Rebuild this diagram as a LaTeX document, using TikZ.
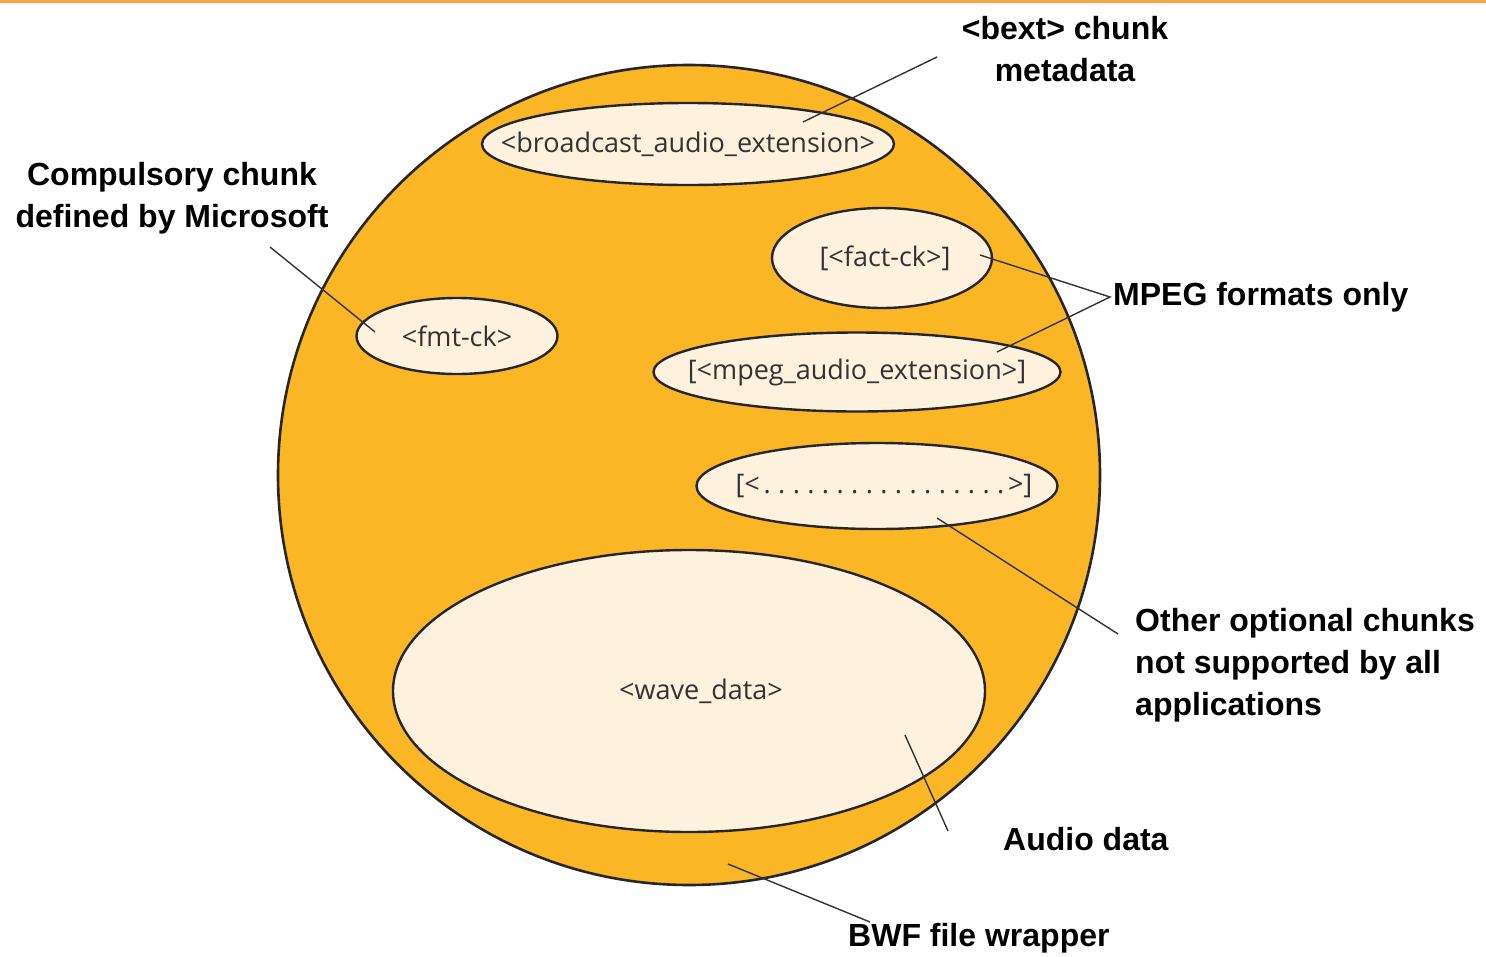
\documentclass[tikz,border=0pt]{standalone}
\usepackage{fontspec}
\setmainfont{Liberation Sans}
\newfontfamily\labfont{Liberation Sans}
\newfontfamily\inner{Open Sans}
\usetikzlibrary{shapes.geometric}
\definecolor{wrapper}{RGB}{251,182,38}
\definecolor{chunk}{RGB}{254,242,222}
\definecolor{topline}{RGB}{245,165,70}
\newcommand{\zb}[1]{\makebox[0pt]{#1}}
\newcommand{\dt}{\makebox[14.6pt]{.}}
\begin{document}
\begin{tikzpicture}[x=1pt,y=-1pt,
  chunkbox/.style={ellipse,draw=black!85,line width=2.4pt,fill=chunk,inner sep=0pt,
     font=\inner\fontsize{27}{32}\selectfont,text=black!80},
  lab/.style={font=\labfont\bfseries\fontsize{32}{42}\selectfont,align=left,inner sep=0pt},
  conn/.style={draw=black!80,line width=1.4pt}]
\useasboundingbox (0,0) rectangle (1486,956);
\fill[white] (0,0) rectangle (1486,956);
\draw[topline,line width=3pt] (0,1.5) -- (1486,1.5);
% wrapper
\node[ellipse,draw=black!85,line width=2.6pt,fill=wrapper,minimum width=822pt,minimum height=820pt,inner sep=0pt] (wrap) at (689,475) {};
% chunks
\node[chunkbox,minimum width=412pt,minimum height=82pt] (bext) at (688,144) {\zb{<broadcast\_audio\_extension>}};
\node[chunkbox,minimum width=220pt,minimum height=100pt] (fact) at (882,258) {\zb{\hspace*{6pt}[<fact-ck>]}};
\node[chunkbox,minimum width=201pt,minimum height=76pt] (fmt) at (457,336) {\zb{<fmt-ck>}};
\node[chunkbox,minimum width=407pt,minimum height=79pt] (mpeg) at (857,372) {\zb{[<mpeg\_audio\_extension>]}};
\node[chunkbox,minimum width=361pt,minimum height=86pt] (dots) at (877,486) {\zb{\hspace*{14pt}[<\dt\dt\dt\dt\dt\dt\dt\dt\dt\dt\dt\dt\dt\dt\dt\dt\dt>]}};
\node[chunkbox,minimum width=592pt,minimum height=282pt] (wave) at (689,691) {\zb{\hspace*{24pt}<wave\_data>}};
% labels
\node[lab,align=center] (lbext) at (1065,49) {<bext> chunk\\metadata};
\node[lab,align=center] (lcomp) at (172,198) {Compulsory chunk\\defined by Microsoft};
\node[lab,anchor=west] (lmpeg) at (1113,297) {MPEG formats only};
\node[lab,anchor=west] (lother) at (1135,665) {Other optional chunks\\not supported by all\\applications};
\node[lab,anchor=west] (laudio) at (1003,839) {Audio data};
\node[lab,anchor=west] (lbwf) at (848,938) {BWF file wrapper};
% connector ends
\coordinate (cbext1) at (937,57);
\coordinate (cbext2) at (803,122);
\coordinate (ccomp1) at (270,247);
\coordinate (ccomp2) at (375,332);
\coordinate (cmpeg) at (1110,297);
\coordinate (cfact) at (980,255);
\coordinate (cmpg2) at (997,352);
\coordinate (cother1) at (1118,634);
\coordinate (cother2) at (937,518);
\coordinate (caudio1) at (948,831);
\coordinate (caudio2) at (905,735);
\coordinate (cbwf1) at (870,922);
\coordinate (cbwf2) at (728,864);
\draw[conn] (cbext1) -- (cbext2);
\draw[conn] (ccomp1) -- (ccomp2);
\draw[conn] (cfact) -- (cmpeg) -- (cmpg2);
\draw[conn] (cother1) -- (cother2);
\draw[conn] (caudio1) -- (caudio2);
\draw[conn] (cbwf1) -- (cbwf2);
\end{tikzpicture}
\end{document}
